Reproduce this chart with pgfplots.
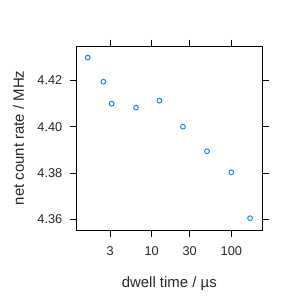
\documentclass[border=0pt]{standalone}
\usepackage{pgfplots}
\pgfplotsset{compat=1.18}
\usepackage{fontspec}
\setmainfont{Liberation Sans}
\definecolor{ptblue}{HTML}{0080FF}
\begin{document}
\begin{tikzpicture}
\begin{axis}[
  scale only axis,
  width=186bp, height=184bp,
  xmode=log, log basis x=10,
  xmin=1.13, xmax=245,
  ymin=4.3554, ymax=4.4348,
  xtick={3,10,30,100},
  xticklabels={3,10,30,100},
  minor xtick={},
  ytick={4.36,4.38,4.40,4.42},
  yticklabel style={xshift=-4bp, /pgf/number format/fixed, /pgf/number format/fixed zerofill, /pgf/number format/precision=2},
  /pgf/number format/assume math mode=true,
  tick align=outside,
  xtick pos=both, ytick pos=both,
  xticklabel pos=bottom, yticklabel pos=left,
  major tick length=6.5bp,
  axis line style={line width=0.8bp},
  every tick/.style={line width=0.8bp, black},
  tick label style={font=\fontsize{12.8}{14}\selectfont, text=black!85},
  xticklabel style={yshift=-7bp},
  label style={font=\fontsize{15}{18}\selectfont, text=black!85},
  xlabel={dwell time / µs},
  ylabel={net count rate / MHz},
  xlabel style={at={(axis description cs:0.5,-0.29)}, anchor=center},
  ylabel style={at={(axis description cs:-0.31,0.5)}, anchor=center},
]
\addplot[only marks, mark=o, mark size=2.4bp, color=ptblue, mark options={line width=0.9bp}] coordinates {
(1.57,4.4298) (2.47,4.4194) (3.14,4.4099) (6.35,4.4082) (12.5,4.4112)
(24.7,4.4000) (49.5,4.3894) (100,4.3803) (172,4.3605)
};
\end{axis}
\pgfresetboundingbox
\path (-76.3bp,-70bp) rectangle (223.7bp,230bp);
\end{tikzpicture}
\end{document}
